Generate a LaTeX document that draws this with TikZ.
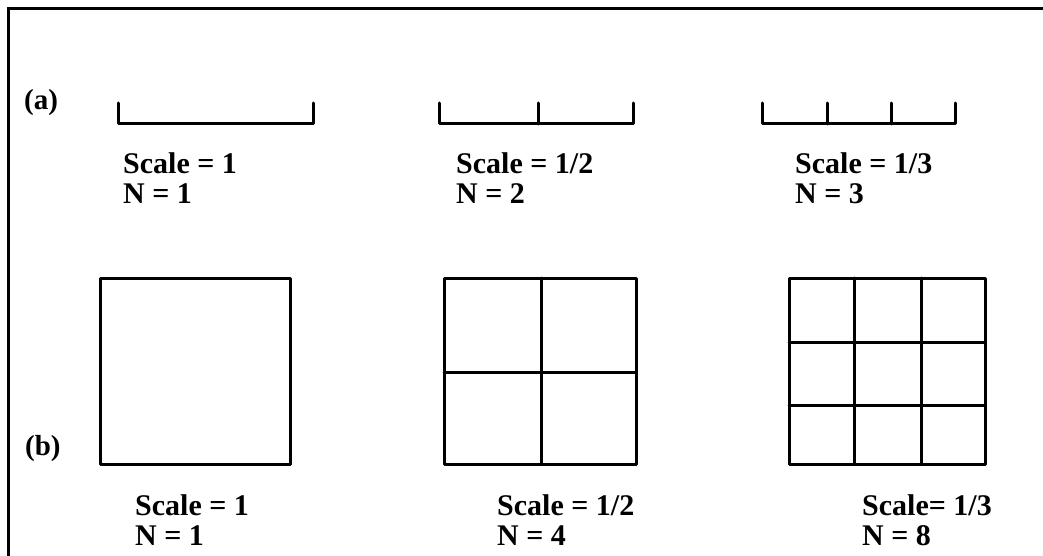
\documentclass[tikz,border=0pt]{standalone}
\usepackage{fontspec}
\setmainfont{Liberation Serif}
\begin{document}
\begin{tikzpicture}[x=1pt,y=-1pt,
  ln/.style={line width=3pt,line cap=round,line join=round},
  fr/.style={line width=3pt},
  lbl/.style={font=\fontsize{30}{32}\selectfont\bfseries,inner sep=0pt,anchor=base west},
  tag/.style={font=\fontsize{29}{32}\selectfont\bfseries,inner sep=0pt,anchor=base west}]
\useasboundingbox (0,0) rectangle (1043,556);
% frame
\coordinate (fA) at (8,556);
\coordinate (fB) at (8,9);
\coordinate (fC) at (1043,9);
\draw[fr] (fA) -- (fB) -- (fC);
% labels
\node[tag] (la) at (24,110) {(a)};
\node[tag] (lb) at (25,455) {(b)};
% brackets
\draw[ln] (118,103) -- (118,124) -- (313,124) -- (313,103);
\draw[ln] (439,103) -- (439,124) -- (633,124) -- (633,103);
\draw[ln] (538,103) -- (538,124);
\draw[ln] (762,103) -- (762,124) -- (955,124) -- (955,103);
\draw[ln] (827,103) -- (827,124);
\draw[ln] (891,103) -- (891,124);
% top texts
\node[lbl] (t1s) at (123,174) {Scale = 1};
\node[lbl] (t1n) at (123,204) {N = 1};
\node[lbl] (t2s) at (456,174) {Scale = 1/2};
\node[lbl] (t2n) at (456,204) {N = 2};
\node[lbl] (t3s) at (795,174) {Scale = 1/3};
\node[lbl] (t3n) at (795,204) {N = 3};
% squares
\draw[ln] (100,278) rectangle (290,464);
\draw[ln] (444,278) rectangle (636,464);
\draw[ln] (541,278) -- (541,464);
\draw[ln] (444,372) -- (636,372);
\draw[ln] (789,278) rectangle (985,464);
\draw[ln] (854,278) -- (854,464);
\draw[ln] (921,278) -- (921,464);
\draw[ln] (789,342) -- (985,342);
\draw[ln] (789,405) -- (985,405);
% bottom texts
\node[lbl] (b1s) at (135,515) {Scale = 1};
\node[lbl] (b1n) at (135,545) {N = 1};
\node[lbl] (b2s) at (497,515) {Scale = 1/2};
\node[lbl] (b2n) at (497,545) {N = 4};
\node[lbl] (b3s) at (862,515) {Scale= 1/3};
\node[lbl] (b3n) at (862,545) {N = 8};
\end{tikzpicture}
\end{document}
